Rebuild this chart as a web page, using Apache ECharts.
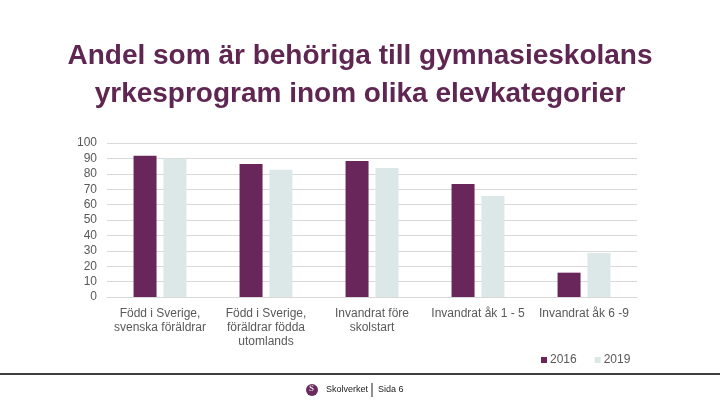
<!DOCTYPE html>
<html>
<head>
<meta charset="utf-8">
<script src="https://cdn.jsdelivr.net/npm/echarts@6/dist/echarts.min.js"></script>
<style>
html,body{margin:0;padding:0;background:#fff;}
#c{width:720px;height:405px;}
</style>
</head>
<body>
<div id="c"></div>
<script>
const categories = [
  'Född i Sverige,\nsvenska föräldrar',
  'Född i Sverige,\nföräldrar födda\nutomlands',
  'Invandrat före\nskolstart',
  'Invandrat åk 1 - 5',
  'Invandrat åk 6 -9'
];
const values2016 = [91.7, 86.4, 88.3, 73.4, 15.8];
const values2019 = [90.0, 82.7, 83.8, 65.6, 28.6];
const yTicks = { min: 0, max: 100, interval: 10 };

const chart = echarts.init(document.getElementById('c'));
const labelColor = '#595959';
chart.setOption({
  animation: false,
  title: {
    text: 'Andel som är behöriga till gymnasieskolans\nyrkesprogram inom olika elevkategorier',
    left: 'center',
    top: 32,
    textStyle: {
      fontFamily: 'Liberation Sans, Arial, sans-serif',
      fontSize: 28,
      fontWeight: 'bold',
      color: '#5f2652',
      lineHeight: 38
    }
  },
  legend: {
    data: ['2016', '2019'],
    left: 536,
    top: 349,
    itemWidth: 6,
    itemHeight: 6,
    itemGap: 18,
    icon: 'rect',
    textStyle: { fontFamily: 'Liberation Sans, Arial, sans-serif', fontSize: 12, color: labelColor, padding: [0,0,0,-2] }
  },
  grid: { left: 107, right: 83, top: 143, bottom: 108, containLabel: false },
  xAxis: {
    type: 'category',
    data: categories,
    axisLine: { show: true, lineStyle: { color: '#d9d9d9' } },
    axisTick: { show: false },
    axisLabel: {
      interval: 0,
      margin: 10,
      fontFamily: 'Liberation Sans, Arial, sans-serif',
      fontSize: 12,
      lineHeight: 14,
      color: labelColor,
      align: 'center'
    }
  },
  yAxis: {
    type: 'value',
    min: yTicks.min,
    max: yTicks.max,
    interval: yTicks.interval,
    axisLine: { show: false },
    axisTick: { show: false },
    splitLine: { lineStyle: { color: '#d9d9d9', width: 1 } },
    axisLabel: {
      margin: 10,
      fontFamily: 'Liberation Sans, Arial, sans-serif',
      fontSize: 12,
      color: labelColor
    }
  },
  series: [
    { name: '2016', type: 'bar', data: values2016, barWidth: 23, barGap: '30%', itemStyle: { color: '#68265a' } },
    { name: '2019', type: 'bar', data: values2019, barWidth: 23, itemStyle: { color: '#dce8e8' } }
  ],
  graphic: [
    { type: 'line', shape: { x1: 0, y1: 374, x2: 720, y2: 374 }, style: { stroke: '#000', lineWidth: 1.5 } },
    { type: 'circle', shape: { cx: 312, cy: 390, r: 6 }, style: { fill: '#6b2a5e' } },
    { type: 'text', left: 309, top: 384, style: { text: 'S', fill: '#fff', font: '9px Liberation Serif, serif' } },
    { type: 'text', left: 326, top: 385, style: { text: 'Skolverket', fill: '#222', font: '9px Liberation Sans, Arial, sans-serif' } },
    { type: 'line', shape: { x1: 372, y1: 383, x2: 372, y2: 397 }, style: { stroke: '#222', lineWidth: 1 } },
    { type: 'text', left: 378, top: 385, style: { text: 'Sida 6', fill: '#222', font: '9px Liberation Sans, Arial, sans-serif' } }
  ]
});
</script>
</body>
</html>
